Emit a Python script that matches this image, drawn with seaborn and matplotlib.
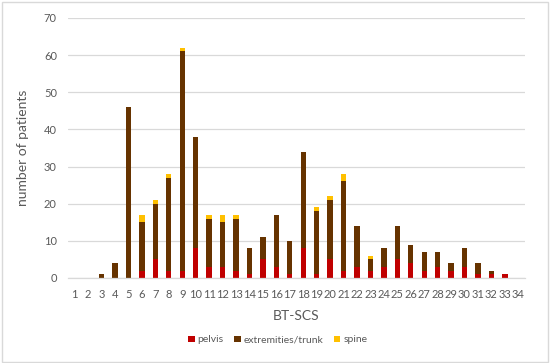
import matplotlib
matplotlib.use("Agg")
import matplotlib.pyplot as plt
import seaborn as sns
import pandas as pd
from matplotlib.patches import Rectangle, Patch

categories = [str(i) for i in range(1, 35)]
pelvis = [0, 0, 0, 0, 0, 2, 5, 2, 2, 8, 3, 3, 2, 1, 5, 3, 1, 8, 1, 5, 2, 3, 2, 3, 5, 4, 2, 3, 2, 3, 1, 1, 1, 0]
extremities_trunk = [0, 0, 1, 4, 46, 13, 15, 25, 59, 30, 13, 12, 14, 7, 6, 14, 9, 26, 17, 16, 24, 11, 3, 5, 9, 5, 5, 4, 2, 5, 3, 1, 0, 0]
spine = [0, 0, 0, 0, 0, 2, 1, 1, 1, 0, 1, 2, 1, 0, 0, 0, 0, 0, 1, 1, 2, 0, 1, 0, 0, 0, 0, 0, 0, 0, 0, 0, 0, 0]
series_names = ["pelvis", "extremities/trunk", "spine"]
colors = ["#C00000", "#663300", "#FFC000"]

df = pd.DataFrame({"BT-SCS": categories, "pelvis": pelvis,
                   "extremities/trunk": extremities_trunk, "spine": spine})
df["c1"] = df["pelvis"]
df["c2"] = df["c1"] + df["extremities/trunk"]
df["c3"] = df["c2"] + df["spine"]

sns.set_style("white")
plt.rcParams["font.family"] = ["Lato", "DejaVu Sans"]

fig = plt.figure(figsize=(5.5, 3.63), dpi=100)
ax = fig.add_axes([68 / 550, 1 - 278 / 363, (525 - 68) / 550, (278 - 18) / 363])

for col, c in zip(["c3", "c2", "c1"], colors[::-1]):
    sns.barplot(data=df, x="BT-SCS", y=col, order=categories, color=c,
                width=0.4, ax=ax, saturation=1, linewidth=0, errorbar=None)

ax.set_ylim(0, 70)
ax.set_yticks(range(0, 71, 10))
ax.set_xlim(-0.5, 33.5)
ax.yaxis.grid(True, color="#D9D9D9", linewidth=0.9)
ax.set_axisbelow(True)
for s in ["top", "right", "left"]:
    ax.spines[s].set_visible(False)
ax.spines["bottom"].set_color("#D9D9D9")
ax.spines["bottom"].set_linewidth(0.9)
ax.tick_params(axis="both", length=0, colors="#595959", labelsize=8)
ax.tick_params(axis="y", pad=8)
ax.tick_params(axis="x", pad=8)
ax.set_xlabel("BT-SCS", fontsize=10, color="#595959", labelpad=7)
ax.set_ylabel("number of patients", fontsize=10, color="#595959", labelpad=11)

handles = [Patch(facecolor=c, edgecolor="none") for c in colors]
fig.legend(handles, series_names, loc="center", bbox_to_anchor=(0.505, 1 - 340 / 363),
           ncol=3, frameon=False, fontsize=7.5, handlelength=0.6, handleheight=0.6,
           handletextpad=0.3, columnspacing=1.0, labelcolor="#595959")

fig.patches.append(Rectangle((0.004, 0.004), 0.992, 0.99, transform=fig.transFigure,
                             fill=False, edgecolor="#D9D9D9", linewidth=1))

fig.savefig("out.png", dpi=100)
